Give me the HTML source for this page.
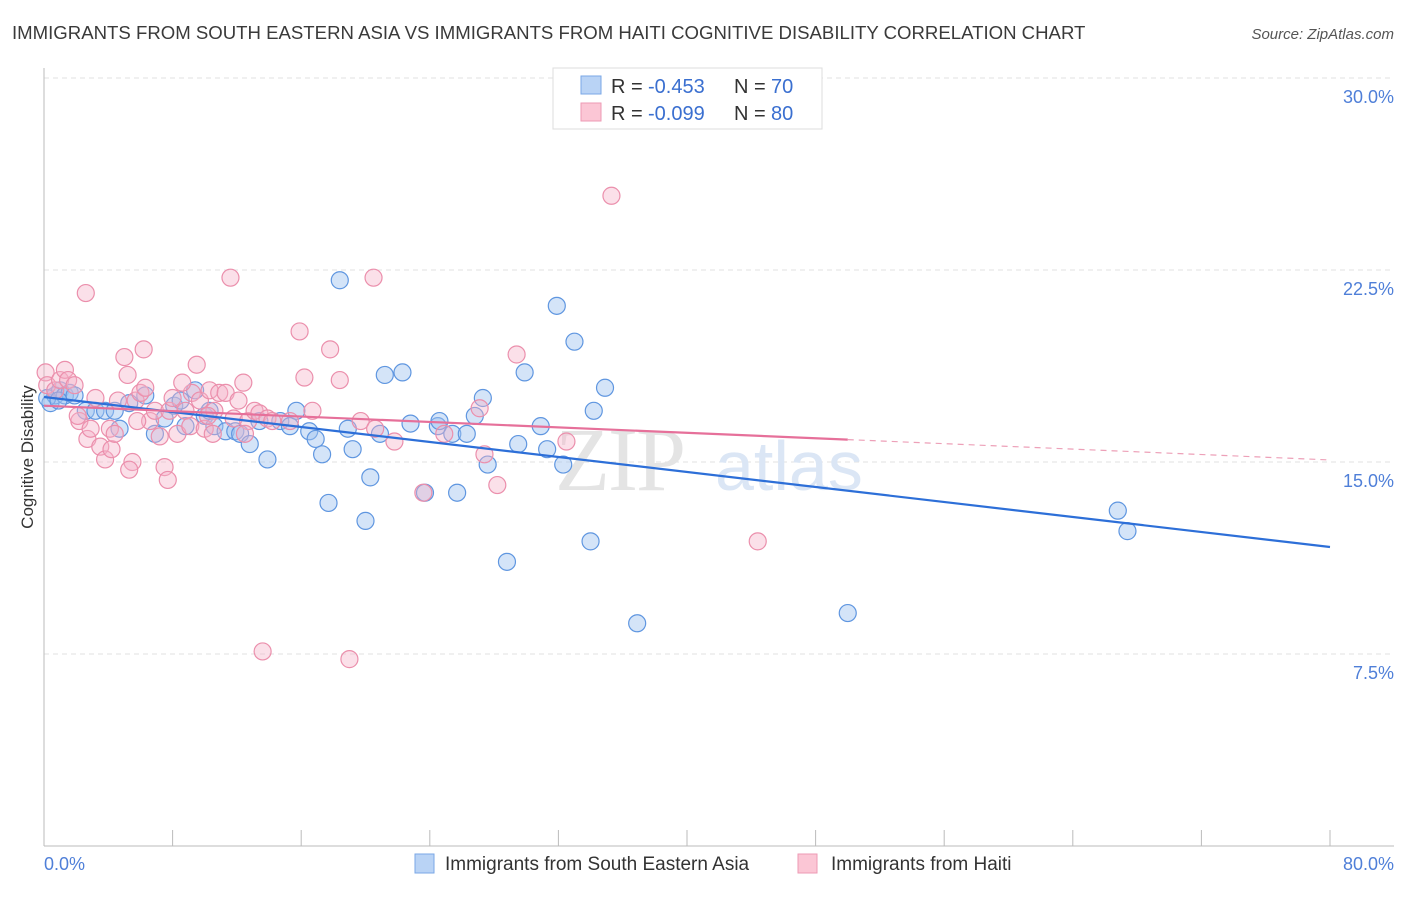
<!DOCTYPE html>
<html><head><meta charset="utf-8"><style>
body{margin:0;background:#fff;font-family:"Liberation Sans",sans-serif}
</style></head><body>
<svg width="1406" height="892" xmlns="http://www.w3.org/2000/svg" font-family="Liberation Sans, sans-serif">
<text x="12" y="39" font-size="18.6" fill="#3a3a3a">IMMIGRANTS FROM SOUTH EASTERN ASIA VS IMMIGRANTS FROM HAITI COGNITIVE DISABILITY CORRELATION CHART</text>
<text x="1394" y="39" font-size="15" fill="#555" text-anchor="end" font-style="italic">Source: ZipAtlas.com</text>
<g id="grid"></g>
<text x="555" y="490" font-size="90" fill="#e4e4e4" font-family="Liberation Serif, serif" letter-spacing="-2">ZIP</text>
<text x="715" y="490" font-size="70" fill="#dbe6f5">atlas</text>
<line x1="44" y1="68" x2="44" y2="846" stroke="#bbb"/>
<line x1="44" y1="846" x2="1394" y2="846" stroke="#bbb"/>
<g id="xticks"></g>
<g id="points"></g>
<g id="lines"></g>
<text transform="translate(33,457) rotate(-90)" font-size="17" fill="#333" text-anchor="middle">Cognitive Disability</text>
<text x="44" y="870" font-size="18" fill="#4f7fd8">0.0%</text>
<text x="1394" y="870" font-size="18" fill="#4f7fd8" text-anchor="end">80.0%</text>
<g>
<rect x="553" y="68" width="269" height="61" fill="#fff" stroke="#ddd"/>
<rect x="581" y="76" width="20" height="18" fill="#b9d3f5" stroke="#7aa7e6"/>
<rect x="581" y="103" width="20" height="18" fill="#fbc6d5" stroke="#ee9ab4"/>
<text x="611" y="93" font-size="20" fill="#333">R =</text>
<text x="648" y="93" font-size="20" fill="#3a6fd0">-0.453</text>
<text x="734" y="93" font-size="20" fill="#333">N =</text>
<text x="771" y="93" font-size="20" fill="#3a6fd0">70</text>
<text x="611" y="120" font-size="20" fill="#333">R =</text>
<text x="648" y="120" font-size="20" fill="#3a6fd0">-0.099</text>
<text x="734" y="120" font-size="20" fill="#333">N =</text>
<text x="771" y="120" font-size="20" fill="#3a6fd0">80</text>
</g>
<g>
<rect x="415" y="854" width="19" height="19" fill="#b9d3f5" stroke="#7aa7e6"/>
<text x="445" y="870" font-size="19" fill="#333">Immigrants from South Eastern Asia</text>
<rect x="798" y="854" width="19" height="19" fill="#fbc6d5" stroke="#ee9ab4"/>
<text x="831" y="870" font-size="19" fill="#333">Immigrants from Haiti</text>
</g>
</svg>
<script>
const yTicks=[7.5,15,22.5,30];
const yTickLabels=["7.5%","15.0%","22.5%","30.0%"];
const xTicks=[0,8,16,24,32,40,48,56,64,72,80];
const blueX=[0.4,0.7,1.0,1.3,1.6,2.6,3.2,3.8,4.4,4.7,5.3,6.3,6.9,7.5,8.1,8.5,8.8,9.4,10.0,10.3,10.6,11.3,11.9,12.2,12.8,13.4,13.9,14.7,15.3,15.7,16.5,16.9,17.3,17.7,18.4,18.9,19.2,20.0,20.3,20.9,21.2,22.3,22.8,23.7,24.5,24.6,25.4,25.7,26.3,26.8,27.3,27.6,28.8,29.5,29.9,30.9,31.3,31.9,32.3,33.0,34.0,34.2,34.9,36.9,50.0,66.8,67.4,0.2,0.9,1.9];
const blueY=[17.3,17.6,17.8,17.6,17.7,17.0,17.0,17.0,17.0,16.3,17.3,17.6,16.1,16.7,17.2,17.4,16.4,17.8,16.8,17.0,16.4,16.2,16.2,16.1,15.7,16.6,15.1,16.6,16.4,17.0,16.2,15.9,15.3,13.4,22.1,16.3,15.5,12.7,14.4,16.1,18.4,18.5,16.5,13.8,16.4,16.6,16.1,13.8,16.1,16.8,17.5,14.9,11.1,15.7,18.5,16.4,15.5,21.1,14.9,19.7,11.9,17.0,17.9,8.7,9.1,13.1,12.3,17.5,17.4,17.6];
const pinkX=[0.1,0.2,0.7,1.0,1.3,1.5,1.9,2.2,2.6,2.7,3.2,3.5,3.8,4.1,4.2,4.4,4.6,5.0,5.2,5.5,5.7,6.0,6.2,6.3,6.6,6.9,7.2,7.5,7.7,7.8,8.0,8.3,8.8,9.1,9.2,9.5,9.7,10.0,10.3,10.5,10.6,10.9,11.3,11.6,11.8,12.1,12.4,12.7,13.1,13.4,13.6,13.9,14.2,15.3,15.9,16.2,16.7,17.8,18.4,19.0,19.7,20.5,20.6,21.8,23.6,24.9,27.1,27.4,28.2,29.4,32.5,35.3,44.4,2.1,2.9,12.5,10.2,5.8,5.3,8.6];
const pinkY=[18.5,18.0,17.8,18.2,18.6,18.2,18.0,16.6,21.6,15.9,17.5,15.6,15.1,16.3,15.5,16.1,17.4,19.1,18.4,15.0,17.4,17.7,19.4,17.9,16.6,17.0,16.0,14.8,14.3,17.0,17.5,16.1,17.0,16.4,17.7,18.8,17.4,16.3,17.8,16.1,17.0,17.7,17.7,22.2,16.7,17.4,18.1,16.6,17.0,16.9,7.6,16.7,16.6,16.6,20.1,18.3,17.0,19.4,18.2,7.3,16.6,22.2,16.3,15.8,13.8,16.1,17.1,15.3,14.1,19.2,15.8,25.4,11.9,16.8,16.3,16.1,16.8,16.6,14.7,18.1];
const blueTrend=[17.54,11.68];
const pinkTrend=[17.2,15.08];
const pinkSolidEnd=50;
const NS="http://www.w3.org/2000/svg";
const X=v=>44+v/80*1286;
const Y=v=>846-v/7.5*192;
function mk(tag,attrs,parent){const e=document.createElementNS(NS,tag);for(const k in attrs)e.setAttribute(k,attrs[k]);document.getElementById(parent).appendChild(e);return e;}
yTicks.forEach((t,i)=>{
 const l=mk('line',{x1:44,x2:1394,y1:Y(t),y2:Y(t),stroke:'#e2e2e2','stroke-dasharray':'5,4'},'grid');
 
 
 const tx=mk('text',{x:1394,y:Y(t)+25,'font-size':18,fill:'#4f7fd8','text-anchor':'end'},'grid');
 tx.textContent=yTickLabels[i];
 
 
});
xTicks.forEach(t=>{
 const l=mk('line',{x1:X(t),x2:X(t),y1:830,y2:846,stroke:'#bbb'},'xticks');
 
 
});
blueX.forEach((v,i)=>{
 const c=mk('circle',{cx:X(v),cy:Y(blueY[i]),r:8.5,fill:'rgba(160,195,240,0.45)',stroke:'#5f96e0','stroke-width':1.2},'points');
 
 
});
pinkX.forEach((v,i)=>{
 const c=mk('circle',{cx:X(v),cy:Y(pinkY[i]),r:8.5,fill:'rgba(246,178,200,0.4)',stroke:'#eb8fac','stroke-width':1.2},'points');
 
 
});
const bl=mk('line',{x1:X(0),y1:Y(blueTrend[0]),x2:X(80),y2:Y(blueTrend[1]),stroke:'#2d6fd8','stroke-width':2.2},'lines');


const pAt=x=>pinkTrend[0]+(pinkTrend[1]-pinkTrend[0])*x/80;
const pl=mk('line',{x1:X(0),y1:Y(pinkTrend[0]),x2:X(pinkSolidEnd),y2:Y(pAt(pinkSolidEnd)),stroke:'#e6709a','stroke-width':2.2},'lines');


const pd=mk('line',{x1:X(pinkSolidEnd),y1:Y(pAt(pinkSolidEnd)),x2:X(80),y2:Y(pinkTrend[1]),stroke:'#eda0b8','stroke-width':1.2,'stroke-dasharray':'6,5'},'lines');


</script>
</body></html>
